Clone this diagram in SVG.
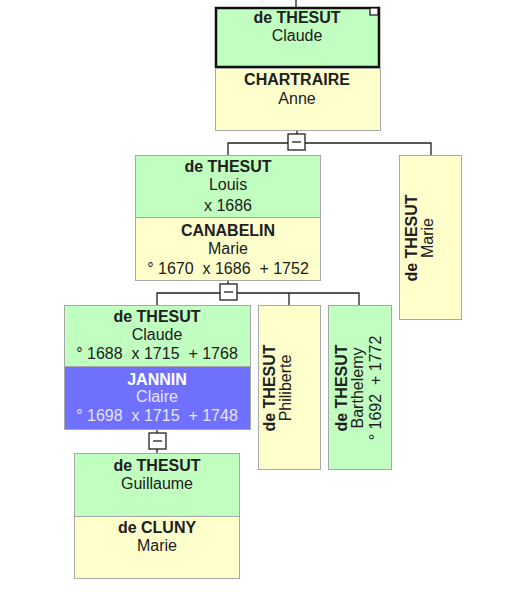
<svg xmlns="http://www.w3.org/2000/svg" width="516" height="604" viewBox="0 0 516 604">
<style>
.g{fill:#c0ffc0;stroke:#a8a8a8;stroke-width:1}
.y{fill:#ffffcc;stroke:#a8a8a8;stroke-width:1}
.b{fill:#7070ff;stroke:#a8a8a8;stroke-width:1}
text{font-family:"Liberation Sans",Arial,sans-serif;font-size:16px;fill:#202020;text-anchor:middle;white-space:pre}
.s{font-weight:bold}
.w{fill:#ffffff}
.lw{fill:#e4e4ff}
.ln{stroke:#202020;stroke-width:1.3;fill:none}
.mb{fill:#ffffff;stroke:#202020;stroke-width:1.3}
</style>
<rect width="516" height="604" fill="#ffffff"/>
<g id="connectors">
<line class="ln" x1="296" y1="0" x2="296" y2="7"/>
<polyline class="ln" points="228,155 228,143 431,143 431,155"/>
<line class="ln" x1="297" y1="131" x2="297" y2="134"/>
<polyline class="ln" points="157,305 157,293 359,293 359,305"/>
<line class="ln" x1="289" y1="293" x2="289" y2="305"/>
<line class="ln" x1="228" y1="281" x2="228" y2="284"/>
<line class="ln" x1="157" y1="430" x2="157" y2="454"/>
<g id="toggle1"><rect class="mb" x="288" y="134" width="17" height="16"/><line class="ln" x1="292" y1="142" x2="301" y2="142"/></g>
<g id="toggle2"><rect class="mb" x="220" y="284" width="17" height="16"/><line class="ln" x1="224" y1="292" x2="233" y2="292"/></g>
<g id="toggle3"><rect class="mb" x="149" y="433" width="17" height="16"/><line class="ln" x1="153" y1="441" x2="162" y2="441"/></g>
</g>
<g id="claude1">
<rect x="216" y="8" width="163" height="59" fill="#c0ffc0" stroke="#101010" stroke-width="2.5"/>
<rect x="370" y="8" width="8" height="7" fill="#ffffff" stroke="#101010" stroke-width="1.2"/>
<text x="297" y="23" class="s">de THESUT</text>
<text x="297" y="41">Claude</text>
</g>
<g id="anne">
<rect class="y" x="215.5" y="68.5" width="165" height="62"/>
<text x="297" y="85" class="s">CHARTRAIRE</text>
<text x="297" y="104">Anne</text>
</g>
<g id="louis">
<rect class="g" x="135.5" y="155.5" width="185" height="62"/>
<text x="228" y="172" class="s">de THESUT</text>
<text x="228" y="190">Louis</text>
<text x="228" y="211">x 1686</text>
</g>
<g id="canabelin">
<rect class="y" x="135.5" y="217.5" width="185" height="63"/>
<text x="228" y="236" class="s">CANABELIN</text>
<text x="228" y="254">Marie</text>
<text x="228" y="274">° 1670  x 1686  + 1752</text>
</g>
<g id="marie1">
<rect class="y" x="399.5" y="155.5" width="62" height="164"/>
<text transform="translate(417,238) rotate(-90)" class="s">de THESUT</text>
<text transform="translate(433,238) rotate(-90)">Marie</text>
</g>
<g id="claude2">
<rect class="g" x="64.5" y="305.5" width="186" height="61"/>
<text x="157" y="322" class="s">de THESUT</text>
<text x="157" y="340">Claude</text>
<text x="157" y="359">° 1688  x 1715  + 1768</text>
</g>
<g id="jannin">
<rect class="b" x="64.5" y="366.5" width="186" height="63"/>
<text x="157" y="385" class="s w">JANNIN</text>
<text x="157" y="402" class="lw">Claire</text>
<text x="157" y="421" class="lw">° 1698  x 1715  + 1748</text>
</g>
<g id="philiberte">
<rect class="y" x="258.5" y="305.5" width="62" height="164"/>
<text transform="translate(275,388) rotate(-90)" class="s">de THESUT</text>
<text transform="translate(291,388) rotate(-90)">Philiberte</text>
</g>
<g id="barthelemy">
<rect class="g" x="328.5" y="305.5" width="63" height="164"/>
<text transform="translate(347,388) rotate(-90)" class="s">de THESUT</text>
<text transform="translate(363,388) rotate(-90)">Barthelemy</text>
<text transform="translate(381,388) rotate(-90)">° 1692  + 1772</text>
</g>
<g id="guillaume">
<rect class="g" x="74.5" y="453.5" width="165" height="63"/>
<text x="157" y="471" class="s">de THESUT</text>
<text x="157" y="489">Guillaume</text>
</g>
<g id="cluny">
<rect class="y" x="74.5" y="516.5" width="165" height="62"/>
<text x="157" y="533" class="s">de CLUNY</text>
<text x="157" y="551">Marie</text>
</g>
</svg>
